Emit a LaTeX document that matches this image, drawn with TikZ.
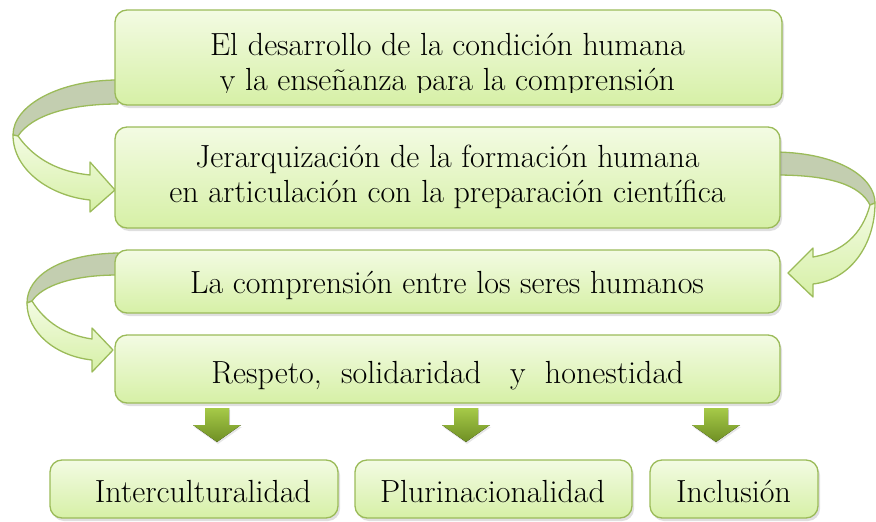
\documentclass[tikz,border=0pt]{standalone}
\usetikzlibrary{shadows}
\definecolor{verdeborde}{HTML}{9BBB59}
\definecolor{verdearriba}{HTML}{F3FBE3}
\definecolor{verdeabajo}{HTML}{D6F0A6}
\definecolor{verdedorso}{HTML}{C3CEB0}
\definecolor{flechaclara}{HTML}{A6CA48}
\definecolor{flechaoscura}{HTML}{6F8F24}
\begin{document}
\begin{tikzpicture}[x=1pt, y=-1pt,
    caja/.style={draw=verdeborde, line width=1.3pt, rounded corners=12pt, top color=verdearriba, bottom color=verdeabajo,
      drop shadow={opacity=0.25, shadow xshift=2pt, shadow yshift=-3pt}, inner sep=0pt},
    letra/.style={font=\fontsize{32}{35}\selectfont, anchor=base, inner sep=0pt},
    dorso/.style={draw=verdeborde, line width=1.3pt, fill=verdedorso, line join=round},
    frente/.style={draw=verdeborde, line width=1.3pt, top color=verdearriba, bottom color=verdeabajo, line join=round},
    bajada/.style={top color=flechaclara, bottom color=flechaoscura, draw=none,
      drop shadow={opacity=0.2, shadow xshift=1pt, shadow yshift=-2pt}}]
    \useasboundingbox (0,0) rectangle (876,522);

    % curved arrows (back side first, the boxes lie over them)
    \draw[dorso] (118,80) .. controls (60,80) and (13,105) .. (13,135) -- (18,136) .. controls (32,115) and (70,104) .. (118,104) -- cycle;
    \draw[frente] (18,136) .. controls (35,160) and (60,172) .. (90,175) -- (90,162) -- (115,190) -- (90,212) -- (90,200)
      .. controls (50,196) and (13,170) .. (13,135) -- cycle;

    \draw[dorso] (776,152) .. controls (840,153) and (875,178) .. (875,203) -- (870,205) .. controls (860,185) and (830,175) .. (776,175) -- cycle;
    \draw[frente] (870,205) .. controls (862,235) and (842,252) .. (813,257) -- (813,248) -- (788,273) -- (813,297) -- (813,284)
      .. controls (850,280) and (875,245) .. (875,203) -- cycle;

    \draw[dorso] (118,253) .. controls (60,254) and (27,276) .. (27,303) -- (32,301) .. controls (42,286) and (72,275) .. (118,275) -- cycle;
    \draw[frente] (32,301) .. controls (45,322) and (65,335) .. (92,339) -- (92,328) -- (113,350) -- (92,372) -- (92,360)
      .. controls (55,356) and (27,332) .. (27,303) -- cycle;

    % boxes
    \node[caja, minimum width=667pt, minimum height=95pt] (desarrollo) at (448.5,57.5) {};
    \node[caja, minimum width=665pt, minimum height=101pt] (jerarquia) at (447.5,177.5) {};
    \node[caja, minimum width=665pt, minimum height=63pt] (comprension) at (447.5,281.5) {};
    \node[caja, minimum width=665pt, minimum height=68pt] (respeto) at (447.5,369) {};
    \node[caja, minimum width=288pt, minimum height=58pt] (intercultural) at (194,489) {};
    \node[caja, minimum width=277pt, minimum height=58pt] (plurinacional) at (493.5,489) {};
    \node[caja, minimum width=168pt, minimum height=58pt] (inclusion) at (734,489) {};

    % texts
    \node[letra] (desarrollo1) at (447.5,55) {El desarrollo de la condición humana};
    \begin{scope}
      \clip (115,60) rectangle (782,92);
      \node[letra] (desarrollo2) at (447.5,90) {y la enseñanza para la comprensión};
    \end{scope}
    \node[letra] (jerarquia1) at (447.5,167) {Jerarquización de la formación humana};
    \node[letra] (jerarquia2) at (447.5,202) {en articulación con la preparación científica};
    \node[letra] (comprension1) at (447,293) {La comprensión entre los seres humanos};
    \node[letra] (respeto1) at (447.5,383) {Respeto,\ \ solidaridad\ \ \ y\ \ honestidad};
    \node[letra] (intercultural1) at (203,502) {Interculturalidad};
    \node[letra] (plurinacional1) at (492.5,502) {Plurinacionalidad};
    \node[letra] (inclusion1) at (733.5,502) {Inclusión};

    % arrows down
    \foreach \cx in {217,466,716}
      \fill[bajada] (\cx-12,408) -- (\cx+12,408) -- (\cx+12,425) -- (\cx+24,425) -- (\cx,442) -- (\cx-24,425) -- (\cx-12,425) -- cycle;
  \end{tikzpicture}
\end{document}
